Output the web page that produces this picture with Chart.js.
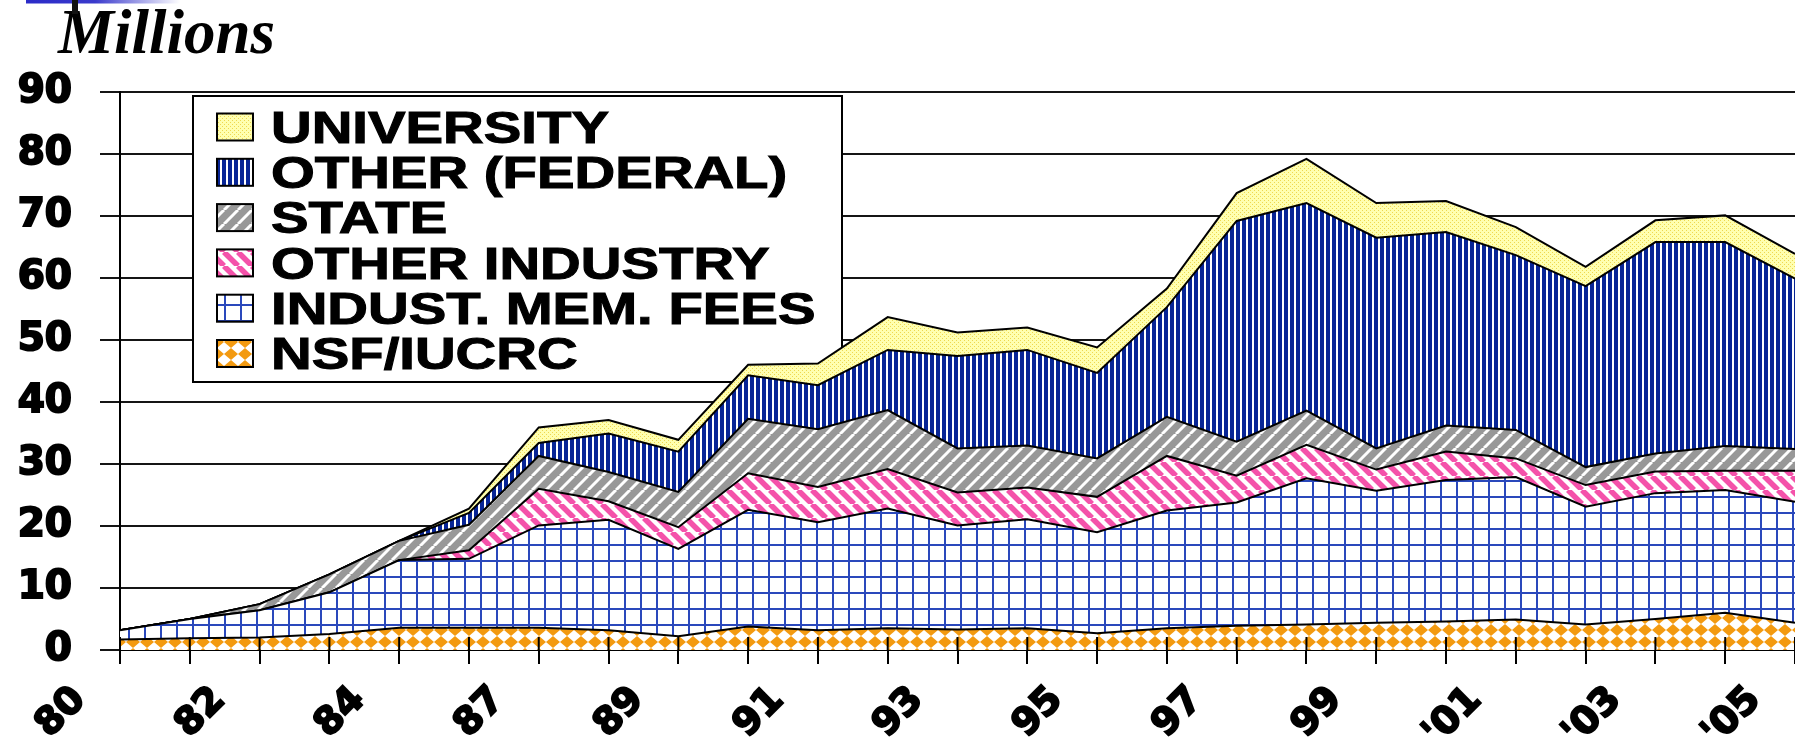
<!DOCTYPE html>
<html>
<head>
<meta charset="utf-8">
<title>Center funding</title>
<script src="https://cdn.jsdelivr.net/npm/chart.js@4.4.1/dist/chart.umd.min.js"></script>
<style>
  html, body { margin: 0; padding: 0; background: #fff; }
  #wrap { position: relative; width: 1795px; height: 750px; }
</style>
</head>
<body>
<div id="wrap"><canvas id="fundChart" width="1795" height="750"></canvas></div>
<script>
// category labels (only every other tick is labelled)
const years = ['80', '', '82', '', '84', '', '87', '', '89', '', '91', '', '93', '', '95', '', '97', '', '99', '', "'01", '', "'03", '', "'05"];

// $ millions, stacked from the bottom up
const nsf = [1.7, 1.9, 2.0, 2.6, 3.6, 3.6, 3.6, 3.2, 2.2, 3.8, 3.2, 3.5, 3.3, 3.5, 2.7, 3.5, 3.9, 4.1, 4.4, 4.6, 4.9, 4.1, 5.0, 6.0, 4.4];
const memFees = [1.5, 3.1, 4.4, 6.7, 10.9, 11.1, 16.5, 17.8, 14.1, 18.8, 17.4, 19.3, 16.8, 17.6, 16.3, 19.0, 19.9, 23.6, 21.3, 22.8, 23.0, 19.0, 20.3, 19.8, 19.5];
const otherIndustry = [0, 0, 0, 0, 0, 1.4, 5.9, 3.0, 3.5, 5.9, 5.7, 6.4, 5.3, 5.1, 5.7, 8.8, 4.3, 5.4, 3.4, 4.6, 3.0, 3.5, 3.5, 3.1, 5.0];
const state = [0, 0, 1.0, 2.9, 3.1, 4.1, 5.3, 4.7, 5.7, 8.8, 9.3, 9.5, 7.1, 6.8, 6.2, 6.3, 5.5, 5.5, 3.4, 4.2, 4.6, 2.9, 2.9, 4.0, 3.5];
const otherFederal = [0, 0, 0, 0, 0, 1.9, 2.1, 6.2, 6.5, 7.0, 7.1, 9.7, 14.9, 15.4, 13.8, 17.7, 35.6, 33.5, 34.0, 31.2, 28.2, 29.2, 34.1, 32.9, 27.5];
const university = [0, 0, 0, 0, 0, 0.7, 2.5, 2.2, 1.9, 1.7, 3.5, 5.3, 3.8, 3.6, 4.1, 3.0, 4.5, 7.1, 5.6, 5.0, 4.5, 3.1, 3.5, 4.3, 4.0];

const ctx = document.getElementById('fundChart').getContext('2d');

// small tiles for the hatch fills
function makePattern(w, h, draw) {
  const c = document.createElement('canvas');
  c.width = w;
  c.height = h;
  draw(c.getContext('2d'), w, h);
  return ctx.createPattern(c, 'repeat');
}

const nsfFill = makePattern(14, 12, (g, w, h) => {
  g.fillStyle = '#fff';
  g.fillRect(0, 0, w, h);
  g.fillStyle = '#f39a10';
  g.beginPath();
  g.moveTo(w / 2, 0);
  g.lineTo(w, h / 2);
  g.lineTo(w / 2, h);
  g.lineTo(0, h / 2);
  g.closePath();
  g.fill();
});

const feesFill = makePattern(16, 16, (g, w, h) => {
  g.fillStyle = '#fff';
  g.fillRect(0, 0, w, h);
  g.fillStyle = '#2a48bc';
  g.fillRect(0, 0, 2, h);
  g.fillRect(0, 0, w, 2);
});

const pinkFill = makePattern(14, 14, (g, s) => {
  g.fillStyle = '#fff';
  g.fillRect(0, 0, s, s);
  g.strokeStyle = '#f452aa';
  g.lineWidth = 5.5;
  for (let k = -1; k <= 1; k++) {
    g.beginPath();
    g.moveTo(k * s, 0);
    g.lineTo(k * s + s, s);
    g.stroke();
  }
});

const stateFill = makePattern(14, 14, (g, s) => {
  g.fillStyle = '#989898';
  g.fillRect(0, 0, s, s);
  g.strokeStyle = '#fff';
  g.lineWidth = 3;
  for (let k = -1; k <= 1; k++) {
    g.beginPath();
    g.moveTo(k * s, s);
    g.lineTo(k * s + s, 0);
    g.stroke();
  }
});

const fedFill = makePattern(6, 6, (g) => {
  g.fillStyle = '#fff';
  g.fillRect(0, 0, 6, 6);
  g.fillStyle = '#082596';
  g.fillRect(0, 0, 4, 6);
});

const univFill = makePattern(4, 4, (g) => {
  g.fillStyle = '#ffffb0';
  g.fillRect(0, 0, 4, 4);
  g.fillStyle = '#eed850';
  g.fillRect(0, 0, 1, 1);
  g.fillRect(2, 2, 1, 1);
});

// boxed legend inside the plot, drawn under the areas
const legendBox = {
  id: 'legendBox',
  beforeDatasetsDraw(chart) {
    const { ctx, chartArea } = chart;
    const x0 = chartArea.left + 73;
    const y0 = chartArea.top + 4;
    ctx.save();
    ctx.fillStyle = '#fff';
    ctx.fillRect(x0, y0, 649, 286);
    ctx.strokeStyle = '#000';
    ctx.lineWidth = 2;
    ctx.strokeRect(x0, y0, 649, 286);
    chart.data.datasets.slice().reverse().forEach((ds, i) => {
      const cy = y0 + 31 + i * 45.3;
      ctx.fillStyle = ds.backgroundColor;
      ctx.fillRect(x0 + 24, cy - 13.5, 36, 27);
      ctx.lineWidth = 2;
      ctx.strokeRect(x0 + 24, cy - 13.5, 36, 27);
      ctx.save();
      ctx.translate(x0 + 78, cy + 15.8);
      ctx.scale(1.28, 1);
      ctx.font = 'bold 44px "Liberation Sans"';
      ctx.fillStyle = '#000';
      ctx.lineWidth = 1;
      ctx.fillText(ds.label, 0, 0);
      ctx.strokeText(ds.label, 0, 0);
      ctx.restore();
    });
    ctx.restore();
  }
};

const extras = {
  id: 'extras',
  afterDatasetsDraw(chart) {
    // tick marks also cross the axis line upward
    const { ctx, chartArea, scales } = chart;
    ctx.save();
    ctx.strokeStyle = '#000';
    ctx.lineWidth = 2;
    scales.x.ticks.forEach((t, i) => {
      const px = scales.x.getPixelForTick(i);
      ctx.beginPath();
      ctx.moveTo(px, chartArea.bottom - 13);
      ctx.lineTo(px, chartArea.bottom);
      ctx.stroke();
    });
    ctx.restore();
  },
  afterDraw(chart) {
    const ctx = chart.ctx;
    ctx.save();
    ctx.font = 'italic bold 63px "Liberation Serif"';
    ctx.fillStyle = '#000';
    ctx.fillText('Millions', 58, 53);
    const grad = ctx.createLinearGradient(26, 0, 180, 0);
    grad.addColorStop(0, '#2b2bc8');
    grad.addColorStop(0.45, '#3a3acc');
    grad.addColorStop(1, 'rgba(60,60,205,0)');
    ctx.fillStyle = grad;
    ctx.fillRect(26, 0, 154, 3.5);
    ctx.fillStyle = '#111';
    ctx.fillRect(72, 0, 6, 14);
    ctx.restore();
  }
};

new Chart(ctx, {
  type: 'line',
  data: {
    labels: years,
    datasets: [
      { label: 'NSF/IUCRC', data: nsf, backgroundColor: nsfFill, fill: 'origin' },
      { label: 'INDUST. MEM. FEES', data: memFees, backgroundColor: feesFill, fill: '-1' },
      { label: 'OTHER INDUSTRY', data: otherIndustry, backgroundColor: pinkFill, fill: '-1' },
      { label: 'STATE', data: state, backgroundColor: stateFill, fill: '-1' },
      { label: 'OTHER (FEDERAL)', data: otherFederal, backgroundColor: fedFill, fill: '-1' },
      { label: 'UNIVERSITY', data: university, backgroundColor: univFill, fill: '-1' }
    ]
  },
  options: {
    responsive: false,
    animation: false,
    devicePixelRatio: 1,
    layout: { padding: { top: 92, left: 0, right: 0, bottom: 0 } },
    elements: {
      line: { borderColor: '#000', borderWidth: 2, tension: 0 },
      point: { radius: 0, hoverRadius: 0 }
    },
    plugins: {
      legend: { display: false },
      tooltip: { enabled: false }
    },
    scales: {
      x: {
        offset: false,
        grid: { drawOnChartArea: false, color: '#000', lineWidth: 2, tickLength: 14 },
        border: { color: '#000', width: 2 },
        ticks: {
          autoSkip: false,
          minRotation: 45,
          maxRotation: 45,
          labelOffset: -40,
          padding: 14,
          color: '#000',
          textStrokeColor: '#000',
          textStrokeWidth: 2,
          font: { family: 'DejaVu Sans', weight: 'bold', size: 38 }
        },
        afterFit(scale) {
          scale.height = 100;
          scale.paddingLeft = 0;
          scale.paddingRight = 0;
        }
      },
      y: {
        stacked: true,
        min: 0,
        max: 90,
        ticks: {
          stepSize: 10,
          padding: 28,
          color: '#000',
          textStrokeColor: '#000',
          textStrokeWidth: 2,
          font: { family: 'DejaVu Sans', weight: 'bold', size: 39 }
        },
        grid: { color: '#151515', lineWidth: 2, tickLength: 20 },
        border: { color: '#000', width: 2 },
        afterFit(scale) {
          scale.width = 120;
        }
      }
    }
  },
  plugins: [legendBox, extras]
});
</script>
</body>
</html>
